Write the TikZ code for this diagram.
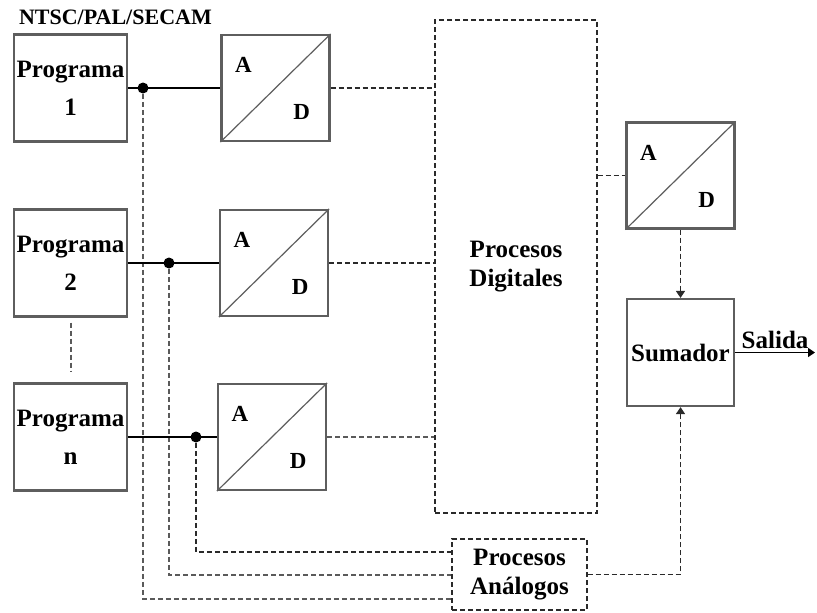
\documentclass[tikz,border=0pt]{standalone}
\usepackage{fontspec}
\setmainfont{Liberation Serif}
\usetikzlibrary{arrows.meta,calc,positioning}
\definecolor{boxgray}{HTML}{5E5E5E}
\definecolor{dashgray}{HTML}{2A2A2A}
\definecolor{pale}{HTML}{5A5A5A}
\begin{document}
\begin{tikzpicture}[x=0.5pt,y=-0.5pt, every node/.style={font=\fontsize{12.5}{19}\selectfont\bfseries,align=center},
  box/.style={draw=boxgray,line width=1.1pt,fill=white,inner sep=0pt,minimum width=56.5pt,minimum height=53.5pt},
  adc/.style={box,minimum width=54pt,minimum height=53pt},
  pbox/.style={draw=dashgray,line width=0.7pt,dash pattern=on 2.5pt off 1.5pt,inner sep=0pt,font=\fontsize{12.5}{14.5}\selectfont\bfseries},
  dsh/.style={draw=dashgray,line width=0.7pt,dash pattern=on 2.5pt off 1.5pt},
  dshg/.style={dsh,draw=pale,line width=1pt},
  ln/.style={draw=black,line width=0.6pt},
  dot/.style={circle,fill=black,inner sep=0pt,minimum size=5.5pt},
  tip/.style={-{Triangle[length=3.5pt,width=4.5pt]}}]
  \useasboundingbox (0,0) rectangle (817,612);
  \node[anchor=west,font=\fontsize{11}{13}\selectfont\bfseries] (std) at (12,17) {NTSC/PAL/SECAM};
  \node[box] (p1) at (70.5,88) {Programa\\1};
  \node[box] (p2) at (70.5,263) {Programa\\2};
  \node[box] (pn) at (70.5,437) {Programa\\n};
  \node[adc] (ad1) at (275.5,88) {};
  \node[adc] (ad2) at (274,263) {};
  \node[adc] (adn) at (272,437) {};
  \node[adc] (ad4) at (680.5,175.5) {};
  \node[box,minimum width=53.5pt] (sum) at (680.5,352.5) {Sumador};
  \node[pbox,minimum width=81pt,minimum height=246.5pt] (dig) at (516,266.5) {Procesos\\Digitales};
  \node[pbox,minimum width=67.5pt,minimum height=35.5pt,fill=white] (ana) at (519.5,574.5) {Procesos\\Análogos};
  \foreach \c in {ad1,ad2,adn,ad4}{
    \draw[boxgray,line width=0.6pt] (\c.south west) -- (\c.north east);
    \node[font=\fontsize{11.5}{13}\selectfont\bfseries] (\c-a) at ($(\c.north west)+(23,31)$) {A};
    \node[font=\fontsize{11.5}{13}\selectfont\bfseries] (\c-d) at ($(\c.south east)+(-29,-30)$) {D};
  }
  \coordinate (out) at (815,352.5);
  \node[dot] (d1) at (143,88) {};
  \node[dot] (d2) at (169,263) {};
  \node[dot] (dn) at (196,437) {};
  \draw[dshg] (d1) |- ([yshift=-12.25pt]ana.west);
  \draw[dshg] (d2) |- (ana.west);
  \draw[dsh] (dn) |- ([yshift=11.25pt]ana.west);
  \draw[ln] (p1) -- (ad1);
  \draw[ln] (p2) -- (ad2);
  \draw[ln] (pn) -- (adn);
  \draw[dshg,shorten <=2.5pt,shorten >=5pt] (p2) -- (pn);
  \draw[dsh] (ad1) -- (ad1 -| dig.west);
  \draw[dsh] (ad2) -- (ad2 -| dig.west);
  \draw[dshg,line width=0.7pt] (adn) -- (adn -| dig.west);
  \draw[dsh] (ad4.west -| dig.east) -- (ad4);
  \draw[dsh,tip] (ad4) -- (sum);
  \draw[dsh,tip] (ana) -| (sum);
  \draw[ln,line width=0.8pt,tip] (sum) -- node[above,inner sep=1.5pt] (sal) {Salida} (out);
\end{tikzpicture}
\end{document}
